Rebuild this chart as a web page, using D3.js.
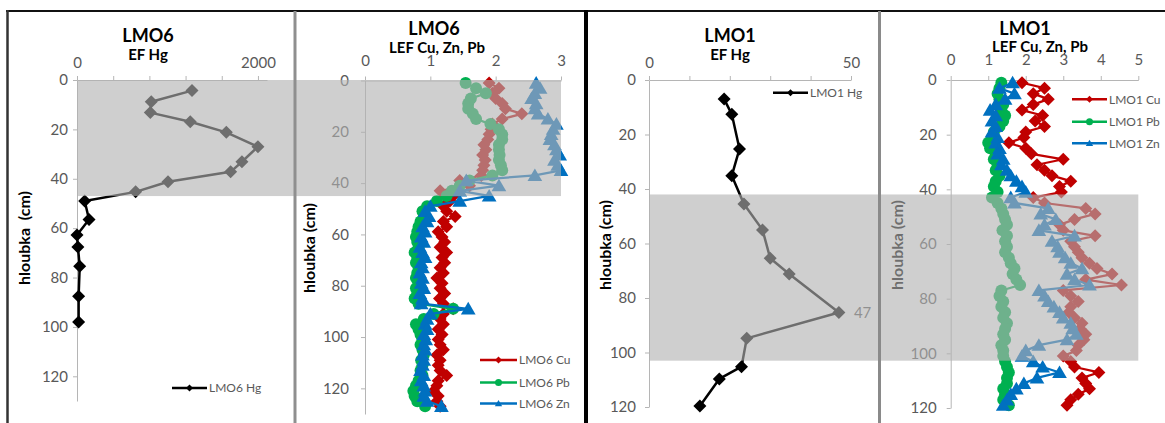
<!DOCTYPE html>
<html><head><meta charset="utf-8">
<script src="https://cdn.jsdelivr.net/npm/d3@7"></script>
<style>
html,body{margin:0;padding:0;background:#fff;}
svg{display:block;font-family:Lato,'Open Sans',sans-serif;}
</style>
</head><body>
<svg id="c" width="1165" height="423"></svg>
<script>
// ---------- DATA ----------
// LMO6 – EF Hg
const lmo6HgDepth = [4.3, 8.8, 13.2, 16.9, 21.2, 27, 33.1, 37.2, 41.2, 45.3, 49, 56.5, 62.8, 67.6, 75.4, 87.6, 98];
const lmo6HgEF    = [1271, 821, 810, 1252, 1650, 2000, 1823, 1698, 1006, 648, 85, 133, 0, 10, 30, 18, 18];
// LMO6 – LEF Cu, Pb, Zn
const lmo6Depth = [1,3,5,7,9,11,13,15,17,19,21,23,25,27,29,31,33,35,37,39,41,43,45,47,49,51,53,55,57,59,61,63,
                   65,67,69,71,73,75,77,79,81,83,85,87,89,91,93,95,97,99,101,103,105,107,109,111,113,115,117,119,121,123,125,127];
const lmo6Cu = [1.90,2.05,1.95,2.00,2.10,2.15,2.40,2.10, 1.95,1.93,1.90,1.88,1.82,1.85,1.80,1.84,
                1.82,1.80,1.78,1.45,1.60,1.15,1.35,1.30, 1.20,1.25,1.38,1.20,1.25,1.12,1.18,1.22,
                1.15,1.25,1.18,1.22,1.15,1.20,1.10,1.18, 1.15,1.22,1.14,1.20,1.35,1.20,1.15,1.20,
                1.12,1.18,1.12,1.15,1.20,1.10,1.15,1.12, 1.15,1.25,1.12,1.10,1.05,1.12,1.10,1.15];
const lmo6Pb = [1.54,1.70,1.85,1.62,1.58,1.58,1.65,1.70, 1.92,2.05,2.10,2.10,2.05,2.05,2.06,2.05,
                2.08,2.10,1.95,1.60,1.45,1.33,1.25,1.10, 0.95,0.88,0.90,0.85,0.82,0.80,0.78,0.80,
                0.82,0.76,0.80,0.78,0.82,0.80,0.78,0.82, 0.78,0.80,0.76,0.82,1.35,1.05,0.90,0.78,
                0.82,0.85,0.88,0.85,0.88,0.90,0.86,0.88, 0.85,0.88,0.82,0.78,0.74,0.76,0.80,0.92];
const lmo6Zn = [2.62,2.68,2.60,2.55,2.62,2.60,2.65,2.80, 2.93,2.88,2.85,2.83,2.90,2.93,2.98,2.90,
                2.95,3.00,2.60,1.55,2.05,1.45,1.90,1.45, 1.00,0.92,0.98,0.95,0.88,0.92,0.86,0.90,
                0.84,0.88,0.92,0.86,0.88,0.84,0.88,0.86, 0.90,0.84,0.88,0.86,1.58,1.00,0.95,0.92,
                0.95,0.90,0.93,0.90,0.92,0.88,0.90,0.88, 0.85,0.90,0.86,0.90,0.92,0.90,0.95,1.17];
// LMO1 – EF Hg
const lmo1HgDepth = [7, 12.6, 25.3, 35.1, 45.5, 55, 65.4, 71.2, 85.3, 94.8, 105.2, 109.7, 119.6];
const lmo1HgEF    = [18.6, 20.5, 22.4, 20.5, 23.5, 28.1, 30.0, 34.7, 47, 24.2, 22.9, 17.4, 12.6];
// LMO1 – LEF Cu, Pb, Zn
const lmo1Depth = [1,3,5,7,9,11,13,15,17,19,21,23,25,27,29,31,33,35,37,39,41,43,45,47,49,51,53,55,57,59,
                   61,63,65,67,69,71,73,75,77,79,81,83,85,87,89,91,93,95,97,99,101,103,105,107,109,111,113,115,117,119];
const lmo1Cu = [1.90,2.50,2.20,2.60,2.20,1.90,2.45,2.25, 2.50,2.00,1.95,1.55,2.00,2.15,3.00,2.30,
                2.50,2.70,3.20,2.90,2.95,2.20,2.50,3.60, 3.85,3.30,2.90,3.00,3.85,3.20,3.30,3.40,
                3.50,3.70,3.90,4.30,3.60,4.55,3.00,3.20, 3.40,3.20,3.15,3.30,3.50,3.45,3.60,3.55,
                3.40,3.35,3.00,3.20,3.30,3.95,3.50,3.60, 3.70,3.40,3.20,3.10];
const lmo1Pb = [1.35,1.30,1.25,1.30,1.40,1.35,1.45,1.40, 1.30,1.15,1.10,1.00,1.05,1.20,1.15,1.25,
                1.20,1.30,1.20,1.15,1.25,1.10,1.25,1.35, 1.40,1.45,1.50,1.38,1.50,1.45,1.50,1.45,
                1.55,1.60,1.70,1.65,1.75,1.85,1.35,1.30, 1.40,1.35,1.45,1.40,1.50,1.45,1.40,1.45,
                1.35,1.40,1.40,1.45,1.50,1.55,1.50,1.50, 1.40,1.45,1.40,1.55];
const lmo1Zn = [1.65,1.30,1.70,1.45,1.20,1.05,1.20,1.10, 1.20,1.10,1.25,1.20,1.30,1.25,1.40,1.35,
                1.50,1.60,1.75,1.90,2.00,1.60,1.70,2.60, 2.40,2.80,2.50,2.35,3.30,2.70,2.85,2.90,
                3.05,3.20,3.50,3.10,3.30,3.70,2.35,2.50, 2.60,2.75,2.90,3.00,3.20,3.25,3.35,3.10,
                2.35,2.00,1.90,2.20,2.45,2.90,2.30,1.95, 1.75,1.60,1.50,1.40];
// Tick values / labels
const depthTicks = [0,20,40,60,80,100,120];
const hg6Ticks = [0,400,800,1200,1600,2000], hg6Labels = [0,2000];
const lef6Ticks = [0,1,2,3];
const hg1Ticks = [0,10,20,30,40,50], hg1Labels = [0,50];
const lef1Ticks = [0,1,2,3,4,5];
// Shaded depth zones
const zone6 = [0,47];
const zone1 = [42,103];
const peakLabel = "47";

// ---------- DRAW ----------
const svg = d3.select('#c');
const COL = {cu:'#c00000', pb:'#00b050', zn:'#0070c0', hg:'#000000'};
const TICK_COL = '#595959', AXIS_COL = '#b5b5b5';

function shapePath(shape, r){
  if(shape==='diamond') return `M0,${-r}L${r},0L0,${r}L${-r},0Z`;
  if(shape==='triangle') return `M0,${-r}L${r*1.05},${r*0.8}L${-r*1.05},${r*0.8}Z`;
  return d3.symbol(d3.symbolCircle, Math.PI*r*r)();
}

function makePanel(o){
  const x = d3.scaleLinear().domain(o.xd).range(o.xr);
  const y = d3.scaleLinear().domain(o.yd).range(o.yr);
  const g = svg.append('g');
  const ax = g.append('g').attr('transform',`translate(0,${o.yr[0]})`)
    .call(d3.axisTop(x).tickValues(o.xt).tickSize(4).tickSizeOuter(0).tickPadding(o.xpad)
      .tickFormat(v => o.xl ? (o.xl.includes(v) ? d3.format('d')(v) : '') : d3.format('d')(v)));
  const ay = g.append('g').attr('transform',`translate(${o.xr[0]},0)`)
    .call(d3.axisLeft(y).tickValues(depthTicks).tickSize(4).tickSizeOuter(0).tickPadding(o.ypad));
  [ax,ay].forEach(a=>{
    a.selectAll('path,line').attr('stroke',AXIS_COL).attr('stroke-width',1);
    a.selectAll('text').attr('fill',TICK_COL).attr('font-size',15).attr('font-family','Lato');
  });
  return {x,y,g};
}

function drawSeries(p, depths, vals, color, shape, r, lw){
  const data = depths.map((d,i)=>({d, v: vals[i]}));
  p.g.append('path').datum(data)
    .attr('d', d3.line().x(e=>p.x(e.v)).y(e=>p.y(e.d)))
    .attr('fill','none').attr('stroke',color).attr('stroke-width',lw).attr('stroke-linejoin','round');
  p.g.selectAll(null).data(data).join('path')
    .attr('transform', e=>`translate(${p.x(e.v)},${p.y(e.d)})`)
    .attr('d', shapePath(shape,r)).attr('fill',color);
}

function legendItem(x0, x1, y, color, shape, label){
  svg.append('line').attr('x1',x0).attr('x2',x1).attr('y1',y).attr('y2',y)
    .attr('stroke',color).attr('stroke-width',2.5);
  svg.append('path').attr('transform',`translate(${(x0+x1)/2},${y})`)
    .attr('d', shapePath(shape, 3.5)).attr('fill',color);
  svg.append('text').attr('x',x1+2).attr('y',y).attr('dy','0.36em')
    .attr('font-size',12).attr('fill',TICK_COL).text(label);
}

function text(x,y,str,size,weight,anchor,rot){
  const t = svg.append('text').attr('font-size',size).attr('font-weight',weight||'normal')
    .attr('text-anchor',anchor||'middle').attr('fill','#000').text(str);
  if(rot) t.attr('transform',`translate(${x},${y}) rotate(-90)`).attr('dy','0.35em');
  else t.attr('x',x).attr('y',y);
  return t;
}

// Panel 1: LMO6 EF Hg
const p1 = makePanel({xd:[0,2100], xr:[77,267], yd:[0,130], yr:[80,401], xt:hg6Ticks, xl:hg6Labels, xpad:8.5, ypad:5});
drawSeries(p1, lmo6HgDepth, lmo6HgEF, COL.hg, 'diamond', 6.5, 2.5);
// Panel 2: LMO6 LEF
const p2 = makePanel({xd:[0,3], xr:[365,561], yd:[0,130], yr:[80.5,414], xt:lef6Ticks, xpad:11, ypad:12});
drawSeries(p2, lmo6Depth, lmo6Cu, COL.cu, 'diamond', 6.5, 2.25);
drawSeries(p2, lmo6Depth, lmo6Pb, COL.pb, 'circle', 6, 2.25);
drawSeries(p2, lmo6Depth, lmo6Zn, COL.zn, 'triangle', 7, 2.25);
// Panel 3: LMO1 EF Hg
const p3 = makePanel({xd:[0,50], xr:[649,851], yd:[0,120], yr:[80,407], xt:hg1Ticks, xl:hg1Labels, xpad:8.5, ypad:9});
drawSeries(p3, lmo1HgDepth, lmo1HgEF, COL.hg, 'diamond', 6.5, 2.5);
const iPeak = lmo1HgEF.indexOf(d3.max(lmo1HgEF));
svg.append('text').attr('x', p3.x(lmo1HgEF[iPeak]) + 15).attr('y', p3.y(lmo1HgDepth[iPeak])).attr('dy','0.36em')
  .attr('font-size',15).attr('fill',TICK_COL).text(peakLabel);
// Panel 4: LMO1 LEF
const p4 = makePanel({xd:[0,5], xr:[950.7,1138.3], yd:[0,120], yr:[80,408], xt:lef1Ticks, xpad:11, ypad:10});
drawSeries(p4, lmo1Depth, lmo1Cu, COL.cu, 'diamond', 6.5, 2.25);
drawSeries(p4, lmo1Depth, lmo1Pb, COL.pb, 'circle', 6, 2.25);
drawSeries(p4, lmo1Depth, lmo1Zn, COL.zn, 'triangle', 7, 2.25);

// Titles
text(148, 42, 'LMO6', 18, 'bold');
text(148, 59.5, 'EF Hg', 15, 'bold');
text(434, 34.5, 'LMO6', 18, 'bold');
text(437, 52.5, 'LEF Cu, Zn, Pb', 15, 'bold');
text(730, 41.5, 'LMO1', 18, 'bold');
text(730, 59.5, 'EF Hg', 15, 'bold');
text(1025, 34.5, 'LMO1', 18, 'bold');
text(1040, 51.5, 'LEF Cu, Zn, Pb', 15, 'bold');
// Axis titles
text(24, 238, 'hloubka\u00a0\u00a0(cm)', 16, 'bold', 'middle', true);
text(309, 248, 'hloubka (cm)', 16, 'bold', 'middle', true);
text(605, 245, 'hloubka (cm)', 16, 'bold', 'middle', true);
text(897, 245, 'hloubka (cm)', 16, 'bold', 'middle', true);

// Legends
legendItem(172, 207, 388, COL.hg, 'diamond', 'LMO6 Hg');
legendItem(480, 517, 360, COL.cu, 'diamond', 'LMO6 Cu');
legendItem(480, 517, 382.5, COL.pb, 'circle', 'LMO6 Pb');
legendItem(480, 517, 403.5, COL.zn, 'triangle', 'LMO6 Zn');
legendItem(773, 808, 92.7, COL.hg, 'diamond', 'LMO1 Hg');
legendItem(1072, 1107, 99.3, COL.cu, 'diamond', 'LMO1 Cu');
legendItem(1072, 1107, 121.7, COL.pb, 'circle', 'LMO1 Pb');
legendItem(1072, 1107, 143.3, COL.zn, 'triangle', 'LMO1 Zn');

// Shaded zones (semi-transparent overlay on top of data)
svg.append('rect')
  .attr('x', p1.x(0)).attr('y', p1.y(zone6[0]))
  .attr('width', p2.x(3) - p1.x(0)).attr('height', p1.y(zone6[1]) - p1.y(zone6[0]))
  .attr('fill','rgb(178,178,178)').attr('fill-opacity',0.62);
svg.append('rect')
  .attr('x', p3.x(0)).attr('y', p3.y(zone1[0]))
  .attr('width', p4.x(5) - p3.x(0)).attr('height', p3.y(zone1[1]) - p3.y(zone1[0]))
  .attr('fill','rgb(178,178,178)').attr('fill-opacity',0.62);

// Panel frames
const frame = svg.append('g');
frame.append('line').attr('x1',6).attr('x2',1165).attr('y1',11).attr('y2',11).attr('stroke','#111').attr('stroke-width',2);
frame.append('line').attr('x1',7.5).attr('x2',7.5).attr('y1',10).attr('y2',423).attr('stroke','#333').attr('stroke-width',2.5);
frame.append('line').attr('x1',295).attr('x2',295).attr('y1',11).attr('y2',423).attr('stroke','#8f8f8f').attr('stroke-width',3);
frame.append('line').attr('x1',586).attr('x2',586).attr('y1',10).attr('y2',423).attr('stroke','#000').attr('stroke-width',4);
frame.append('line').attr('x1',879.5).attr('x2',879.5).attr('y1',11).attr('y2',423).attr('stroke','#8a8a8a').attr('stroke-width',3);
</script>
</body></html>
